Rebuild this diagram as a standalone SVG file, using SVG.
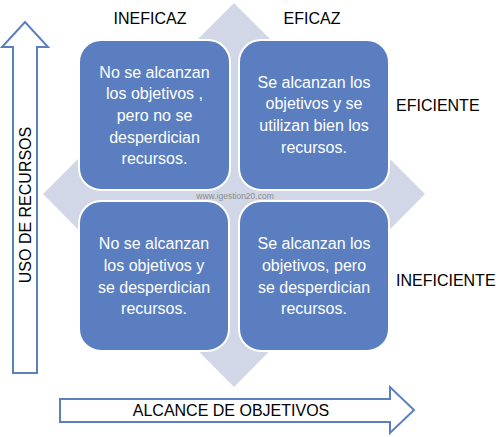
<svg xmlns="http://www.w3.org/2000/svg" width="502" height="437" viewBox="0 0 502 437">
<style>
.box{fill:#5a7ebf;stroke:#ffffff;stroke-width:2}
.bt{font-family:"Liberation Sans",Arial,sans-serif;font-size:16px;fill:#ffffff;text-anchor:middle}
.lbl{font-family:"Liberation Sans",Arial,sans-serif;font-size:16px;fill:#000000}
.arrow{fill:#ffffff;stroke:#5b7fbf;stroke-width:2}
</style>
<rect width="502" height="437" fill="#ffffff"/>
<polygon id="diamond" points="234,3 425,194 234,387 43,194" fill="#d2d7e7"/>
<g id="axes">
<polygon class="arrow" points="13,373 37,373 37,47 48,47 25,22 2,47 13,47"/>
<polygon class="arrow" points="60,399 390,399 390,387 414,410 390,433 390,422 60,422"/>
</g>
<text class="lbl" x="0" y="0" text-anchor="middle" transform="translate(31,205) rotate(-90)" font-size="15">USO DE RECURSOS</text>
<text class="lbl" x="231" y="416" text-anchor="middle">ALCANCE DE OBJETIVOS</text>
<text class="lbl" x="150" y="24" text-anchor="middle">INEFICAZ</text>
<text class="lbl" x="312" y="24" text-anchor="middle">EFICAZ</text>
<text class="lbl" x="396" y="111">EFICIENTE</text>
<text class="lbl" x="396" y="286">INEFICIENTE</text>
<g id="n1">
<rect class="box" x="79" y="40" width="151" height="150" rx="22"/>
<text class="bt"><tspan x="154.5" y="78">No se alcanzan</tspan><tspan x="154.5" y="99">los objetivos ,</tspan><tspan x="154.5" y="121">pero no se</tspan><tspan x="154.5" y="143">desperdician</tspan><tspan x="154.5" y="164">recursos.</tspan></text>
</g>
<g id="n2">
<rect class="box" x="239" y="40" width="150" height="150" rx="22"/>
<text class="bt"><tspan x="314" y="88">Se alcanzan los</tspan><tspan x="314" y="109">objetivos y se</tspan><tspan x="314" y="131">utilizan bien los</tspan><tspan x="314" y="153">recursos.</tspan></text>
</g>
<g id="n3">
<rect class="box" x="79" y="201" width="150" height="150" rx="22"/>
<text class="bt"><tspan x="154" y="249">No se alcanzan</tspan><tspan x="154" y="271">los objetivos y</tspan><tspan x="154" y="293">se desperdician</tspan><tspan x="154" y="314">recursos.</tspan></text>
</g>
<g id="n4">
<rect class="box" x="239" y="201" width="150" height="150" rx="22"/>
<text class="bt"><tspan x="314" y="249">Se alcanzan los</tspan><tspan x="314" y="271">objetivos, pero</tspan><tspan x="314" y="293">se desperdician</tspan><tspan x="314" y="314">recursos.</tspan></text>
</g>
<text x="235" y="199" text-anchor="middle" font-family="'Liberation Sans',Arial,sans-serif" font-size="8.5" fill="#8a8a8a">www.igestion20.com</text>
</svg>
